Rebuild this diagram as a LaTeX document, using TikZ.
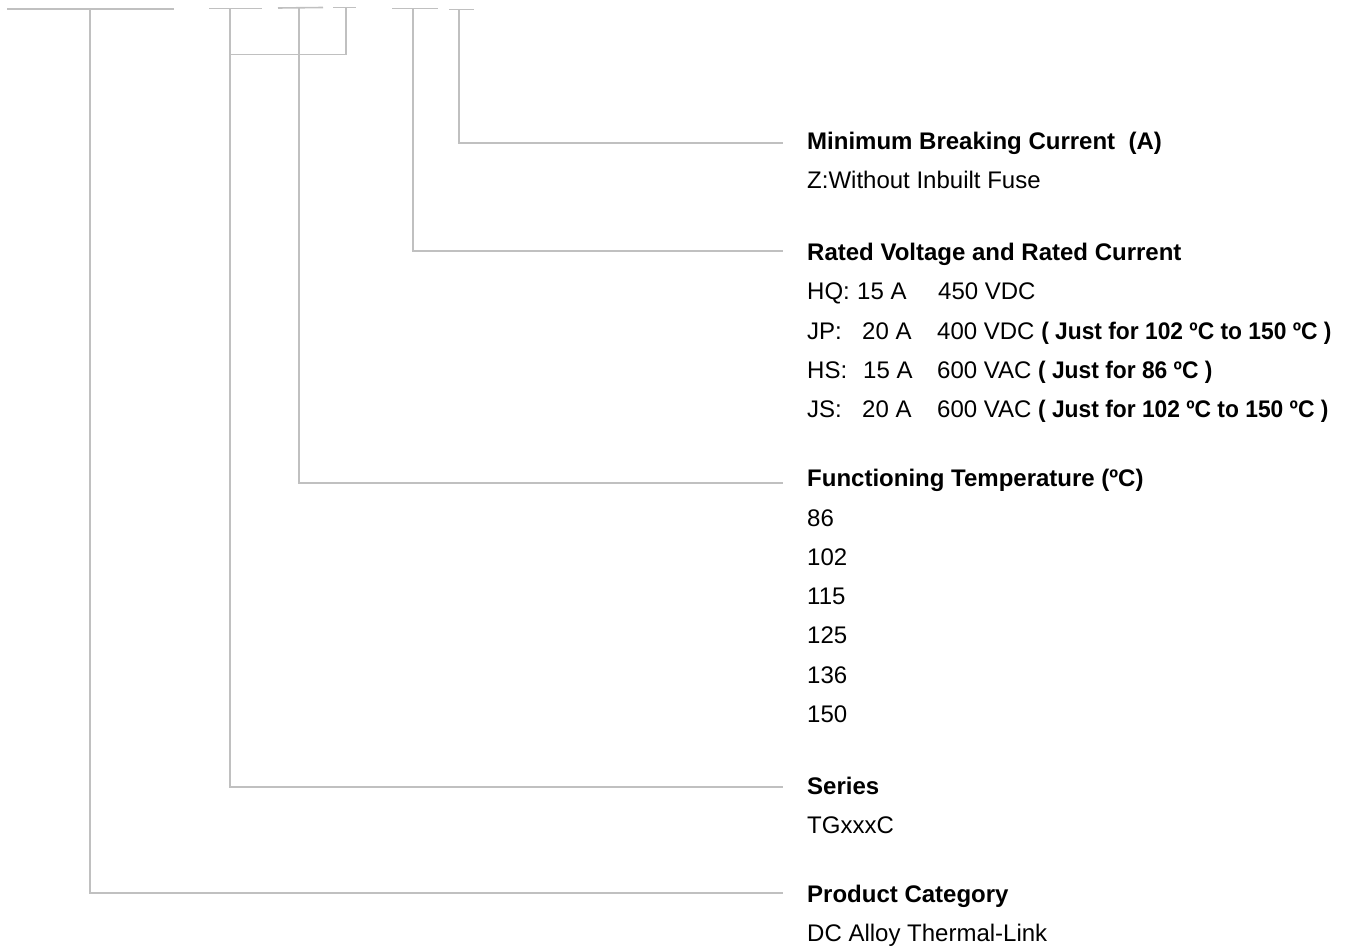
\documentclass[tikz,border=0pt]{standalone}
\usepackage{fontspec}
\setmainfont{Liberation Sans}
\definecolor{ln}{RGB}{192,192,192}
\tikzset{
  conn/.style={draw=ln, line width=1.6pt},
  lbl/.style={anchor=base west, inner sep=0pt, font=\fontsize{24}{28}\selectfont},
  hd/.style={anchor=base west, inner sep=0pt, font=\fontsize{24}{28}\selectfont\bfseries}
}
\newcommand{\bnote}[1]{\textbf{\scalebox{0.95}[1]{#1}}}
\begin{document}
\begin{tikzpicture}[x=1pt,y=-1pt]
\useasboundingbox (0,0) rectangle (1350,947);
% top placeholder bars
\coordinate (b1l) at (7,9);   \coordinate (b1r) at (174,9);
\coordinate (b2l) at (209,8.5); \coordinate (b2r) at (262,8.5);
\coordinate (b3l) at (278,8); \coordinate (b3r) at (323,7.5);
\coordinate (b4l) at (333,7.5); \coordinate (b4r) at (356,7.5);
\coordinate (b5l) at (392,8.5); \coordinate (b5r) at (438,8.5);
\coordinate (b6l) at (449,9.5); \coordinate (b6r) at (474,9.5);
\foreach \i in {1,...,6} {\draw[conn] (b\i l) -- (b\i r);}
% tap points on the bars
\coordinate (s1) at (90,9);
\coordinate (s2) at (230,8.5);
\coordinate (s3) at (299,8);
\coordinate (s4) at (346,7.5);
\coordinate (s5) at (413,8.5);
\coordinate (s6) at (459,9.5);
% texts
\node[hd]  (t1)  at (807,149.5) {Minimum Breaking Current\ \ (A)};
\node[lbl] (t1a) at (807,188.5) {Z:Without Inbuilt Fuse};
\node[hd]  (t2)  at (807,260) {Rated Voltage and Rated Current};
\node[lbl] (t2a) at (807,299.5) {\makebox[50pt][l]{HQ:}\makebox[81pt][l]{15 A}450 VDC};
\node[lbl] (t2b) at (807,339) {\makebox[55pt][l]{JP:}\makebox[75pt][l]{20 A}400 VDC \bnote{( Just for 102 ºC to 150 ºC )}};
\node[lbl] (t2c) at (807,378.5) {\makebox[56pt][l]{HS:}\makebox[74pt][l]{15 A}600 VAC \bnote{( Just for 86 ºC )}};
\node[lbl] (t2d) at (807,417.5) {\makebox[55pt][l]{JS:}\makebox[75pt][l]{20 A}600 VAC \bnote{( Just for 102 ºC to 150 ºC )}};
\node[hd]  (t3)  at (807,486) {Functioning Temperature (ºC)};
\node[lbl] (t3a) at (807,526) {86};
\node[lbl] (t3b) at (807,565) {102};
\node[lbl] (t3c) at (807,604) {115};
\node[lbl] (t3d) at (807,643) {125};
\node[lbl] (t3e) at (807,683) {136};
\node[lbl] (t3f) at (807,722) {150};
\node[hd]  (t4)  at (807,794) {Series};
\node[lbl] (t4a) at (807,833) {TGxxxC};
\node[hd]  (t5)  at (807,902) {Product Category};
\node[lbl] (t5a) at (807,941) {DC Alloy Thermal-Link};
% connector ends
\coordinate (e1) at (783,143);
\coordinate (e2) at (783,251);
\coordinate (e3) at (783,483);
\coordinate (e4) at (783,787);
\coordinate (e5) at (783,893);
\coordinate (j4) at (230,54.5);
% connectors
\draw[conn] (s6) |- (e1);
\draw[conn] (s5) |- (e2);
\draw[conn] (s3) |- (e3);
\draw[conn] (s2) |- (e4);
\draw[conn] (s1) |- (e5);
\draw[conn] (s4) |- (j4);
\end{tikzpicture}
\end{document}
